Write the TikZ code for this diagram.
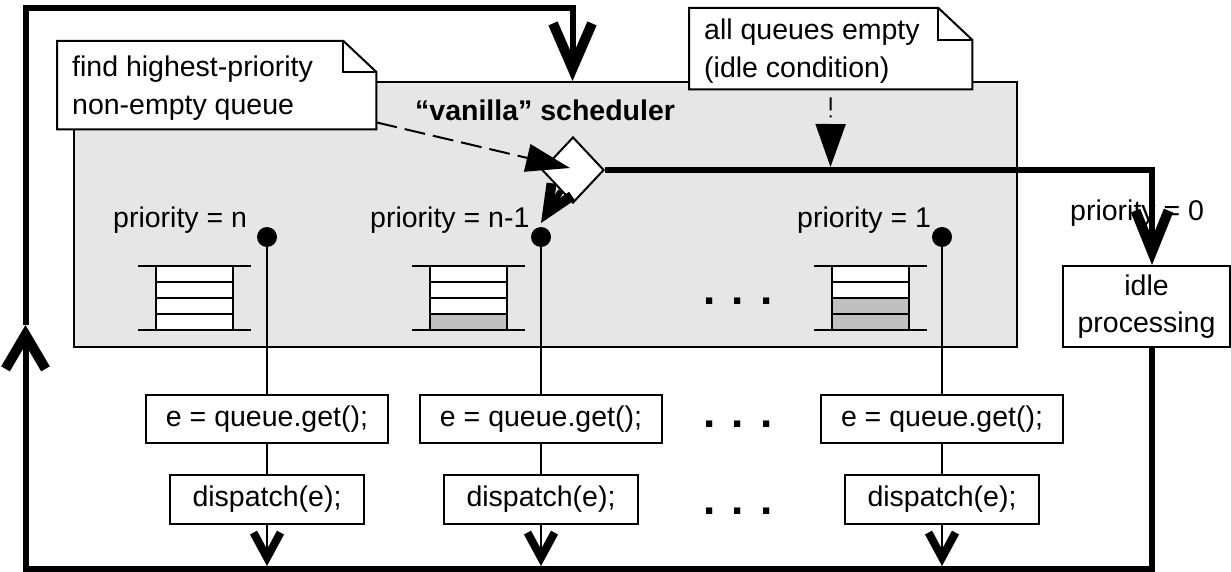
\documentclass[tikz,border=0pt]{standalone}
\usepackage{fontspec}
\setmainfont{Liberation Sans}
\usetikzlibrary{arrows.meta,shapes.geometric}
\definecolor{schedgrey}{RGB}{230,230,230}
\definecolor{cellgrey}{RGB}{192,192,192}
\begin{document}
\begin{tikzpicture}[x=1pt,y=-1pt,
  font=\fontsize{28.5}{38}\selectfont,
  thinl/.style={line width=2pt},
  loopline/.style={line width=6pt, line join=miter},
  schedbox/.style={draw, line width=2pt, fill=schedgrey, inner sep=0pt},
  codebox/.style={draw, line width=2pt, fill=white, inner sep=0pt, minimum height=48pt},
  notebg/.style={inner sep=0pt},
  notetext/.style={align=left, anchor=west, inner sep=0pt},
  plabel/.style={anchor=base west, inner sep=0pt},
  dotnode/.style={circle, fill=black, minimum size=20pt, inner sep=0pt},
  ellips/.style={font=\fontsize{44}{44}\selectfont\bfseries, anchor=base, inner sep=0pt},
  cell/.style={line width=2pt}
]
\useasboundingbox (0,0) rectangle (1231,572);

% scheduler frame
\node[schedbox, anchor=north west, minimum width=943pt, minimum height=265pt] (sched) at (73,81) {};
\node[plabel, font=\fontsize{28.5}{38}\selectfont\bfseries] (stitle) at (415,121) {“vanilla” scheduler};

% queues
\foreach \cx/\ng in {194.5/0, 468/1, 870.5/2} {
  \begin{scope}[shift={(\cx,298)}]
    \foreach \k in {0,1,2,3} {
      \pgfmathtruncatemacro{\isgrey}{\k<\ng ? 1 : 0}
      \ifnum\isgrey=1
        \draw[cell, fill=cellgrey] (-38.5,32-16*\k) rectangle (38.5,16-16*\k);
      \else
        \draw[cell, fill=white] (-38.5,32-16*\k) rectangle (38.5,16-16*\k);
      \fi
    }
    \draw[cell] (-56.5,-32) -- (56.5,-32);
    \draw[cell] (-56.5,32) -- (56.5,32);
  \end{scope}
}

% priority labels
\node[plabel] (pn) at (113,227) {priority = n};
\node[plabel] (pn1) at (370,227) {priority = n-1};
\node[plabel] (p1) at (797,227) {priority = 1};
\node[plabel] (p0) at (1070,220) {priority = 0};

% ellipses
\node[ellips] (el1) at (738,304) {. . .};
\node[ellips] (el2) at (738,427) {. . .};
\node[ellips] (el3) at (738,514) {. . .};

% columns
\foreach \i/\x in {1/267, 2/541, 3/942} {
  \node[dotnode] (d\i) at (\x,237) {};
  \node[codebox, minimum width=242pt] (g\i) at (\x,419) {e = queue.get();};
  \node[codebox, minimum width=194pt, minimum height=49pt] (q\i) at (\x,499.5) {dispatch(e);};
  \coordinate (e\i) at (\x,566);
  \draw[thinl] (d\i) -- (g\i);
  \draw[thinl] (g\i) -- (q\i);
  \draw[thinl, -{Straight Barb[length=25pt,width=27pt,line width=8pt,sharp]}] (q\i) -- (e\i);
}

% idle processing
\node[codebox, minimum width=167pt, minimum height=81pt, align=center,
      font=\fontsize{28.5}{37}\selectfont] (idle) at (1146.5,306.5) {idle\\processing};

% notes
\node[notebg, anchor=north west, minimum width=319pt, minimum height=88pt] (note1) at (57,41) {};
\draw[thinl, fill=white] (note1.south west) -- (note1.north west) -- ([xshift=-33pt]note1.north east)
  -- ([yshift=-31pt]note1.north east) -- (note1.south east) -- cycle;
\draw[thinl] ([xshift=-33pt]note1.north east) |- ([yshift=-31pt]note1.north east);
\node[notetext] (note1t) at ([xshift=15pt,yshift=-3pt]note1.west) {find highest-priority\\non-empty queue};

\node[notebg, anchor=north west, minimum width=283pt, minimum height=81pt] (note2) at (689,8) {};
\draw[thinl, fill=white] (note2.south west) -- (note2.north west) -- ([xshift=-34pt]note2.north east)
  -- ([yshift=-32pt]note2.north east) -- (note2.south east) -- cycle;
\draw[thinl] ([xshift=-34pt]note2.north east) |- ([yshift=-32pt]note2.north east);
\node[notetext] (note2t) at ([xshift=15pt,yshift=-2pt]note2.west) {all queues empty\\(idle condition)};

% decision diamond
\node[diamond, draw, line width=2pt, fill=white, minimum width=62pt, minimum height=66pt, inner sep=0pt] (dia) at (573,170) {};

% idle branch
\draw[loopline, -{Straight Barb[length=41pt,width=33pt,line width=10pt,sharp]}] (dia.east) -| ([xshift=5.5pt]idle.north);

% outer loop
\coordinate (lb) at (25.5,569);
\coordinate (lt) at (25.5,325);
\coordinate (tr) at (572.5,8.5);
\coordinate (stop) at (572.5,81);
\draw[loopline, -{Straight Barb[length=34pt,width=40pt,line width=10pt,sharp]}] ([xshift=5.5pt]idle.south) |- (lb) -- (lt);
\draw[loopline, -{Straight Barb[length=45pt,width=39pt,line width=10pt,sharp]}] (lt) |- (tr) -- (stop);

% diamond to priority n-1
\coordinate (d2t) at (541,223);
\draw[line width=6pt, -{Straight Barb[length=27pt,width=24pt,line width=10pt,sharp]}] (dia.240) -- (d2t);

% note connectors
\coordinate (dtip) at (570,168);
\draw[thinl, dash pattern=on 21pt off 8pt, -{Triangle[length=44pt,width=28pt]}] ([yshift=7pt]note1.south east) -- (dtip);
\coordinate (it2) at (830.5,167);
\draw[thinl, dash pattern=on 0pt off 8pt on 13pt off 5pt on 2pt off 5pt, -{Triangle[length=43pt,width=30pt]}] (note2.south) -- (it2);

\end{tikzpicture}
\end{document}
